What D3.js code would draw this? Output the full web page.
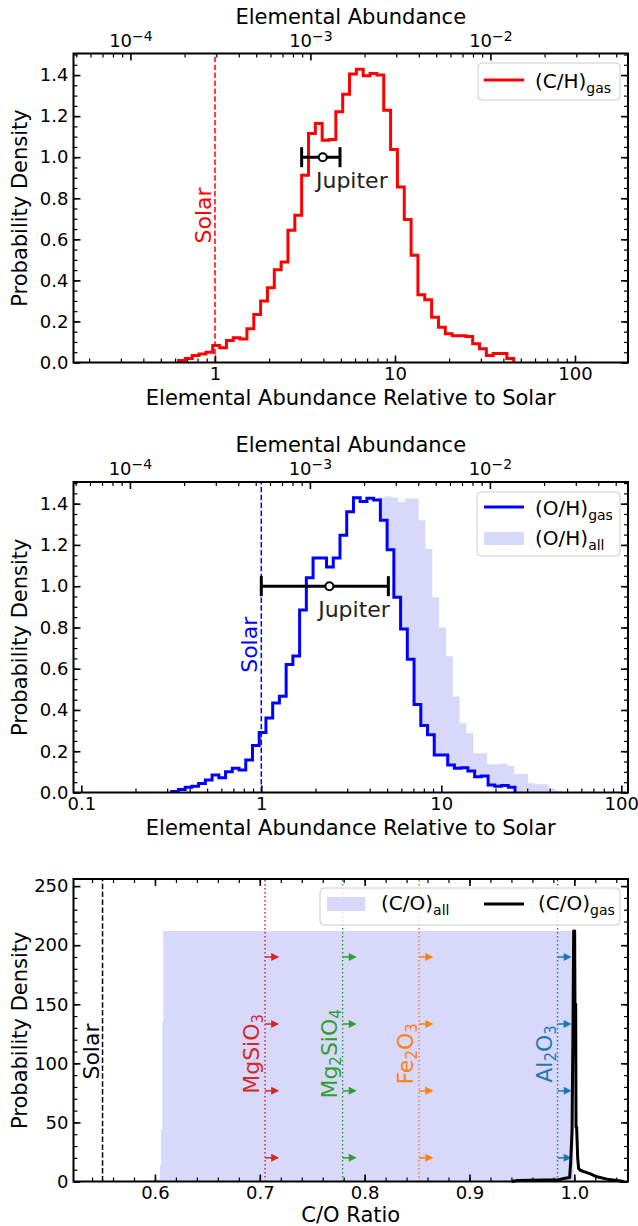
<!DOCTYPE html>
<html>
<head>
<meta charset="utf-8">
<script src="https://cdn.jsdelivr.net/npm/d3@7"></script>
<style>
  body { margin: 0; background: #fff; }
  svg { display: block; font-family: "DejaVu Sans", sans-serif; }
</style>
</head>
<body>
<svg id="chart" width="638" height="1226"></svg>
<script>
// ---- values ----

// panel 1: (C/H)gas histogram, bins evenly spaced in log10(abundance / solar)
var chBinStart = -0.2025;
var chBinWidth = 0.038;
var chGas = [0.01, 0.02, 0.034, 0.042, 0.05, 0.083, 0.072, 0.107, 0.12, 0.115,
  0.164, 0.234, 0.3, 0.364, 0.452, 0.49, 0.644, 0.717, 0.912, 1.115,
  1.164, 1.083, 1.086, 1.221, 1.306, 1.405, 1.428, 1.397, 1.408, 1.4,
  1.229, 1.037, 0.855, 0.696, 0.522, 0.33, 0.306, 0.221, 0.172, 0.14,
  0.13, 0.13, 0.127, 0.091, 0.067, 0.034, 0.044, 0.044, 0.02];

// panel 2: (O/H)gas and (O/H)all histograms
var ohGasStart = -0.4978;
var ohGasWidth = 0.0374;
var ohGas = [0.005, 0.015, 0.025, 0.03, 0.044, 0.06, 0.085, 0.072, 0.1, 0.117,
  0.109, 0.158, 0.228, 0.291, 0.361, 0.434, 0.467, 0.621, 0.662, 0.885,
  1.041, 1.137, 1.137, 1.093, 1.137, 1.247, 1.361, 1.429, 1.41, 1.426,
  1.418, 1.32, 1.177, 0.946, 0.792, 0.646, 0.426, 0.325, 0.28, 0.182,
  0.182, 0.133, 0.117, 0.12, 0.104, 0.076, 0.08, 0.036, 0.03, 0.034, 0.026];
var ohAllStart = -0.2644;
var ohAllWidth = 0.03795;
var ohAll = [0.005, 0.01, 0.02, 0.03, 0.04, 0.05, 0.07, 0.08, 0.1, 0.11,
  0.12, 0.16, 0.22, 0.29, 0.36, 0.43, 0.47, 0.62, 0.66, 0.88,
  1.04, 1.14, 1.13, 1.25, 1.43, 1.435, 1.43, 1.408, 1.425, 1.425,
  1.32, 1.18, 0.946, 0.8, 0.66, 0.465, 0.336, 0.288, 0.19, 0.19,
  0.137, 0.137, 0.14, 0.13, 0.09, 0.09, 0.045, 0.04, 0.04, 0.02, 0.008];

// solar abundances used for the top axes
var solarCH = 2.95e-4;
var solarOH = 5.37e-4;

// Jupiter measurements (relative to solar): value, low, high
var jupiterC = [3.97, 3.03, 4.95];
var jupiterO = [2.39, 1.0, 5.08];

// panel 3: C/O
var coAllX = [0.5828, 0.600, 0.6048, 0.6048, 0.6057, 0.6057, 0.6070, 0.6070, 0.6079, 0.6079, 0.9994, 0.9994];
var coAllY = [0, 1.5, 2, 14, 14, 43.6, 43.6, 135.4, 135.4, 212, 212, 0];
var coGasX = [0.940, 0.946, 0.985, 0.990, 0.9955, 0.9965, 0.9978, 0.9987, 0.9994, 1.0003, 1.0006, 1.0013,
  1.0016, 1.0022, 1.0032, 1.0041, 1.0057, 1.0105, 1.0153, 1.0216, 1.0312, 1.0407, 1.0471];
var coGasY = [0, 0.8, 1.5, 2.5, 3.3, 16, 42, 126, 212, 212, 150, 150,
  46, 46, 20, 11, 9.5, 8, 6.5, 4, 2, 0.8, 0];
var solarCO = 0.55;

var minerals = ['MgSiO_3', 'Mg_2SiO_4', 'Fe_2O_3', 'Al_2O_3'];
var mineralCO = [0.705, 0.779, 0.852, 0.984];
var mineralColors = ['#d62728', '#2ca02c', '#ff7f0e', '#1f77b4'];
var arrowDensity = [20, 76.7, 133.3, 190];
var arrowLength = 0.0135;

// tick labels
var relTicks1 = [1, 10, 100];
var relTicks2 = [0.1, 1, 10, 100];
var absTicks = [1e-4, 1e-3, 1e-2];
var densTicks = [0, 0.2, 0.4, 0.6, 0.8, 1.0, 1.2, 1.4];
var coTicks = [0.6, 0.7, 0.8, 0.9, 1.0];
var coDensTicks = [0, 50, 100, 150, 200, 250];

// ---- layout ----
var svg = d3.select('#chart');
var plotL = 73.5, plotR = 628;
var tickFont = 18, labelFont = 21, noteFont = 22, legendFont = 20;
var lavender = 'rgb(216,216,250)';

function logMinors(domain) {
  return d3.scaleLog().domain(domain).ticks().filter(function (d) {
    var l = Math.log10(d);
    return Math.abs(l - Math.round(l)) > 1e-6;
  });
}

function styleAxis(a, width) {
  a.select('.domain').remove();
  a.attr('font-family', null).attr('font-size', tickFont);
  a.selectAll('line').attr('stroke', '#000').attr('stroke-width', width);
  a.selectAll('text').filter(function () { return !this.textContent; }).remove();
  a.selectAll('text').attr('fill', '#000');
  return a;
}

function axes(g, x, y, o) {
  var top = y.range()[1], bottom = y.range()[0];
  // major + minor ticks on all four sides, pointing in
  styleAxis(g.append('g').attr('transform', 'translate(0,' + bottom + ')')
    .call(d3.axisBottom(x).tickValues(o.xMajor).tickFormat(o.xFormat).tickSize(-7).tickPadding(5)), 1.6);
  styleAxis(g.append('g').attr('transform', 'translate(0,' + bottom + ')')
    .call(d3.axisBottom(x).tickValues(o.xMinor).tickFormat('').tickSize(-4)), 1.2);
  styleAxis(g.append('g').attr('transform', 'translate(' + plotL + ',0)')
    .call(d3.axisLeft(y).tickValues(o.yMajor).tickFormat(o.yFormat).tickSize(-7).tickPadding(5)), 1.6);
  styleAxis(g.append('g').attr('transform', 'translate(' + plotL + ',0)')
    .call(d3.axisLeft(y).tickValues(o.yMinor).tickFormat('').tickSize(-4)), 1.2);
  styleAxis(g.append('g').attr('transform', 'translate(' + plotR + ',0)')
    .call(d3.axisRight(y).tickValues(o.yMajor).tickFormat('').tickSize(-7)), 1.6);
  styleAxis(g.append('g').attr('transform', 'translate(' + plotR + ',0)')
    .call(d3.axisRight(y).tickValues(o.yMinor).tickFormat('').tickSize(-4)), 1.2);

  var tx = o.xTop || x;
  var topAx = g.append('g').attr('transform', 'translate(0,' + top + ')')
    .call(d3.axisTop(tx).tickValues(o.topMajor || o.xMajor).tickFormat(o.xTop ? function (d) { return d; } : '')
      .tickSize(-7).tickPadding(7));
  if (o.xTop) {
    // 10^n labels with superscripts
    topAx.selectAll('text').each(function (d) {
      var t = d3.select(this).text('');
      t.append('tspan').text('10');
      t.append('tspan').attr('dy', -6).attr('font-size', 14).text('\u2212' + Math.round(-Math.log10(d)));
    });
    g.append('text').attr('x', (plotL + plotR) / 2).attr('y', top - 30)
      .attr('text-anchor', 'middle').attr('font-size', labelFont).text('Elemental Abundance');
  }
  styleAxis(topAx, 1.6);
  styleAxis(g.append('g').attr('transform', 'translate(0,' + top + ')')
    .call(d3.axisTop(tx).tickValues(o.topMinor || o.xMinor).tickFormat('').tickSize(-4)), 1.2);

  g.append('rect').attr('x', plotL).attr('y', top)
    .attr('width', plotR - plotL).attr('height', bottom - top)
    .attr('fill', 'none').attr('stroke', '#000').attr('stroke-width', 2);

  g.append('text').attr('x', (plotL + plotR) / 2).attr('y', bottom + o.xLabelGap)
    .attr('text-anchor', 'middle').attr('font-size', labelFont).text(o.xLabel);
  g.append('text').attr('transform', 'translate(27,' + (top + bottom) / 2 + ') rotate(-90)')
    .attr('text-anchor', 'middle').attr('font-size', labelFont).text('Probability Density');
}

function histPoints(start, width, heights) {
  var pts = [[Math.pow(10, start), 0]];
  heights.forEach(function (h, i) { pts.push([Math.pow(10, start + i * width), h]); });
  var end = Math.pow(10, start + heights.length * width);
  pts.push([end, heights[heights.length - 1]]);
  pts.push([end, 0]);
  return pts;
}

// "Mg_2SiO_4" -> tspans with lowered digits
function subText(sel, label, subSize, shift) {
  var back = 0;
  label.split(/(_\w)/).forEach(function (p) {
    if (!p) return;
    if (p[0] === '_') {
      sel.append('tspan').attr('dy', shift - back).attr('font-size', subSize).text(p.slice(1));
      back = shift;
    } else {
      sel.append('tspan').attr('dy', -back).text(p);
      back = 0;
    }
  });
}

function legendBox(g, x, y, w, h) {
  g.append('rect').attr('x', x).attr('y', y).attr('width', w).attr('height', h).attr('rx', 4)
    .attr('fill', '#fff').attr('fill-opacity', 0.8).attr('stroke', '#ccc').attr('stroke-width', 1);
}

function legendText(g, x, y, main, sub) {
  var t = g.append('text').attr('x', x).attr('y', y).attr('font-size', legendFont);
  t.append('tspan').text(main);
  t.append('tspan').attr('dy', 5).attr('font-size', 14).text(sub);
}

function jupiter(g, x, y, vals) {
  var yy = y(1.0);
  g.append('line').attr('x1', x(vals[1])).attr('x2', x(vals[2])).attr('y1', yy).attr('y2', yy)
    .attr('stroke', '#000').attr('stroke-width', 3);
  [vals[1], vals[2]].forEach(function (v) {
    g.append('line').attr('x1', x(v)).attr('x2', x(v)).attr('y1', yy - 10).attr('y2', yy + 10)
      .attr('stroke', '#000').attr('stroke-width', 3);
  });
  g.append('circle').attr('cx', x(vals[0])).attr('cy', yy).attr('r', 4)
    .attr('fill', '#fff').attr('stroke', '#000').attr('stroke-width', 2);
}

// ---- panel 1: C/H ----
(function () {
  var g = svg.append('g');
  var x = d3.scaleLog().domain([0.1637, 197]).range([plotL, plotR]);
  var y = d3.scaleLinear().domain([0, 1.505]).range([362.5, 53.5]);
  var xTop = d3.scaleLog().domain([0.1637 * solarCH, 197 * solarCH]).range([plotL, plotR]);

  var line = d3.line().x(function (d) { return x(d[0]); }).y(function (d) { return y(d[1]); })
    .curve(d3.curveStepAfter);

  g.append('line').attr('x1', x(1)).attr('x2', x(1)).attr('y1', y.range()[0]).attr('y2', y.range()[1])
    .attr('stroke', '#ff0000').attr('stroke-width', 1.5).attr('stroke-dasharray', '5.5,2.4');
  g.append('text').attr('transform', 'translate(' + (x(1) - 4) + ',' + y(0.716) + ') rotate(-90)')
    .attr('text-anchor', 'middle').attr('font-size', noteFont).attr('fill', '#ff0000').text('Solar');

  g.append('path').datum(histPoints(chBinStart, chBinWidth, chGas)).attr('d', line)
    .attr('fill', 'none').attr('stroke', '#ff0000').attr('stroke-width', 3);

  jupiter(g, x, y, jupiterC);
  g.append('text').attr('x', x(3.64)).attr('y', y(0.85)).attr('font-size', noteFont)
    .attr('fill', '#222').text('Jupiter');

  axes(g, x, y, {
    xMajor: relTicks1, xMinor: logMinors(x.domain()), xFormat: d3.format('~g'),
    yMajor: densTicks, yMinor: d3.range(0, 1.51, 0.05), yFormat: d3.format('.1f'),
    xTop: xTop, topMajor: absTicks, topMinor: logMinors(xTop.domain()),
    xLabel: 'Elemental Abundance Relative to Solar', xLabelGap: 42
  });

  legendBox(g, 478, 63, 142, 37);
  g.append('line').attr('x1', 484).attr('x2', 524).attr('y1', 80).attr('y2', 80)
    .attr('stroke', '#ff0000').attr('stroke-width', 3);
  legendText(g, 535, 88, '(C/H)', 'gas');
})();

// ---- panel 2: O/H ----
(function () {
  var g = svg.append('g');
  var x = d3.scaleLog().domain([0.0905, 108.96]).range([plotL, plotR]);
  var y = d3.scaleLinear().domain([0, 1.505]).range([792.5, 482]);
  var xTop = d3.scaleLog().domain([0.0905 * solarOH, 108.96 * solarOH]).range([plotL, plotR]);

  var line = d3.line().x(function (d) { return x(d[0]); }).y(function (d) { return y(d[1]); })
    .curve(d3.curveStepAfter);
  var area = d3.area().x(function (d) { return x(d[0]); }).y0(y(0)).y1(function (d) { return y(d[1]); })
    .curve(d3.curveStepAfter);

  g.append('path').datum(histPoints(ohAllStart, ohAllWidth, ohAll)).attr('d', area)
    .attr('fill', lavender);
  var gasPts = histPoints(ohGasStart, ohGasWidth, ohGas);
  g.append('path').datum(gasPts).attr('d', area).attr('fill', '#fff');

  g.append('line').attr('x1', x(1)).attr('x2', x(1)).attr('y1', y.range()[0]).attr('y2', y.range()[1])
    .attr('stroke', '#0000ff').attr('stroke-width', 1.5).attr('stroke-dasharray', '5.5,2.4');
  g.append('text').attr('transform', 'translate(' + (x(1) - 4) + ',' + y(0.716) + ') rotate(-90)')
    .attr('text-anchor', 'middle').attr('font-size', noteFont).attr('fill', '#0000ff').text('Solar');

  g.append('path').datum(gasPts).attr('d', line)
    .attr('fill', 'none').attr('stroke', '#0000ff').attr('stroke-width', 3);

  jupiter(g, x, y, jupiterO);
  g.append('text').attr('x', x(2.07)).attr('y', y(0.853)).attr('font-size', noteFont)
    .attr('fill', '#222').text('Jupiter');

  axes(g, x, y, {
    xMajor: relTicks2, xMinor: logMinors(x.domain()), xFormat: d3.format('~g'),
    yMajor: densTicks, yMinor: d3.range(0, 1.51, 0.05), yFormat: d3.format('.1f'),
    xTop: xTop, topMajor: absTicks, topMinor: logMinors(xTop.domain()),
    xLabel: 'Elemental Abundance Relative to Solar', xLabelGap: 42
  });

  legendBox(g, 477, 492, 143, 64);
  g.append('line').attr('x1', 484).attr('x2', 524).attr('y1', 507).attr('y2', 507)
    .attr('stroke', '#0000ff').attr('stroke-width', 3);
  legendText(g, 535, 515, '(O/H)', 'gas');
  g.append('rect').attr('x', 484).attr('y', 532).attr('width', 40).attr('height', 13).attr('fill', lavender);
  legendText(g, 535, 545, '(O/H)', 'all');
})();

// ---- panel 3: C/O ----
(function () {
  var g = svg.append('g');
  var x = d3.scaleLinear().domain([0.5223, 1.0512]).range([plotL, plotR]);
  var y = d3.scaleLinear().domain([0, 256]).range([1181.5, 879]);

  var allPts = coAllX.map(function (v, i) { return [v, coAllY[i]]; });
  var gasPts = coGasX.map(function (v, i) { return [v, coGasY[i]]; });

  g.append('path').datum(allPts)
    .attr('d', d3.area().x(function (d) { return x(d[0]); }).y0(y(0)).y1(function (d) { return y(d[1]); }))
    .attr('fill', lavender);

  minerals.forEach(function (m, i) {
    var c = mineralColors[i], x0 = x(mineralCO[i]);
    g.append('line').attr('x1', x0).attr('x2', x0).attr('y1', y.range()[0]).attr('y2', y.range()[1])
      .attr('stroke', c).attr('stroke-width', 1.5).attr('stroke-dasharray', '1.5,2.5');
    arrowDensity.forEach(function (a) {
      var tip = x(mineralCO[i] + arrowLength), yy = y(a);
      g.append('line').attr('x1', x0).attr('x2', tip - 6).attr('y1', yy).attr('y2', yy)
        .attr('stroke', c).attr('stroke-width', 1.5);
      g.append('path').attr('d', 'M' + tip + ',' + yy + 'L' + (tip - 8) + ',' + (yy - 4) + 'L' + (tip - 8) + ',' + (yy + 4) + 'Z')
        .attr('fill', c);
    });
    var t = g.append('text').attr('transform', 'translate(' + (x0 - 6) + ',' + y(108) + ') rotate(-90)')
      .attr('text-anchor', 'middle').attr('font-size', noteFont).attr('fill', c);
    subText(t, m, 15, 4);
  });

  g.append('line').attr('x1', x(solarCO)).attr('x2', x(solarCO)).attr('y1', y.range()[0]).attr('y2', y.range()[1])
    .attr('stroke', '#000').attr('stroke-width', 1.5).attr('stroke-dasharray', '5.5,2.4');
  g.append('text').attr('transform', 'translate(' + (x(solarCO) - 4) + ',' + y(110) + ') rotate(-90)')
    .attr('text-anchor', 'middle').attr('font-size', noteFont).attr('fill', '#000').text('Solar');

  g.append('path').datum(gasPts)
    .attr('d', d3.line().x(function (d) { return x(d[0]); }).y(function (d) { return y(d[1]); }))
    .attr('fill', 'none').attr('stroke', '#000').attr('stroke-width', 3).attr('stroke-linejoin', 'round');

  axes(g, x, y, {
    xMajor: coTicks, xMinor: d3.range(0.54, 1.05, 0.02), xFormat: d3.format('.1f'),
    yMajor: coDensTicks, yMinor: d3.range(0, 256, 10), yFormat: d3.format('d'),
    xLabel: 'C/O Ratio', xLabelGap: 40
  });

  legendBox(g, 320, 888, 300, 37);
  g.append('rect').attr('x', 327).attr('y', 897).attr('width', 38).attr('height', 14).attr('fill', lavender);
  legendText(g, 381, 910, '(C/O)', 'all');
  g.append('line').attr('x1', 484).attr('x2', 524).attr('y1', 904).attr('y2', 904)
    .attr('stroke', '#000').attr('stroke-width', 3);
  legendText(g, 538, 910, '(C/O)', 'gas');
})();
</script>
</body>
</html>
